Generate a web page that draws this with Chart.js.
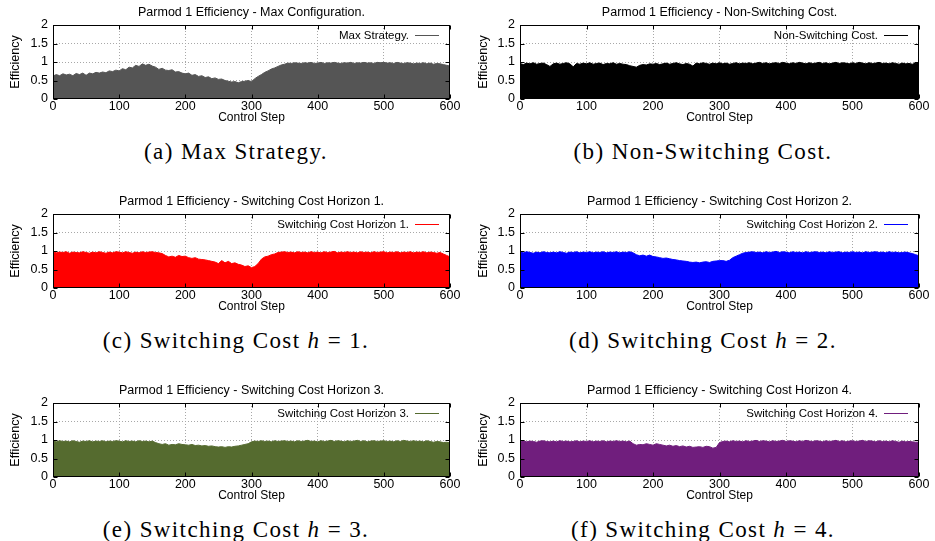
<!DOCTYPE html>
<html>
<head>
<meta charset="utf-8">
<script src="https://cdn.jsdelivr.net/npm/chart.js@4.4.1/dist/chart.umd.min.js"></script>
<style>
  html, body { margin: 0; padding: 0; background: #fff; }
  #page { position: relative; width: 935px; height: 541px; overflow: hidden; }
  .panel { position: absolute; }
  .caption {
    position: absolute; width: 467px; text-align: center; white-space: nowrap;
    font-family: "Liberation Serif", "Times New Roman", serif;
    font-size: 23px; line-height: 24px; letter-spacing: 1.4px; color: #000;
  }
</style>
</head>
<body>
<div id="page"></div>
<script>
// control steps 0..600, one sample every 5 steps
const controlSteps = Array.from({ length: 121 }, (_, i) => i * 5);
const xTicks = [0, 100, 200, 300, 400, 500, 600];
const yTicks = [0, 0.5, 1, 1.5, 2];

const maxStrategy = [
  0.62,0.66,0.63,0.68,0.65,0.67,0.63,0.69,0.66,0.70,
  0.64,0.70,0.68,0.72,0.70,0.73,0.71,0.76,0.74,0.78,
  0.76,0.82,0.79,0.86,0.84,0.91,0.88,0.95,0.91,0.94,
  0.89,0.86,0.80,0.83,0.78,0.77,0.79,0.73,0.74,0.70,
  0.68,0.70,0.64,0.66,0.61,0.63,0.58,0.60,0.55,0.57,
  0.53,0.54,0.50,0.48,0.46,0.47,0.44,0.47,0.48,0.50,
  0.47,0.55,0.61,0.66,0.72,0.76,0.81,0.84,0.88,0.92,
  0.94,0.97,0.96,0.98,0.97,0.96,0.98,0.97,0.99,0.96,
  0.97,0.99,0.96,0.98,0.97,0.99,0.97,0.96,0.98,0.97,
  0.99,0.96,0.98,0.97,0.99,0.97,0.98,0.96,0.99,0.98,
  0.99,0.97,0.98,0.96,0.99,0.97,0.96,0.98,0.97,0.95,
  0.97,0.96,0.98,0.95,0.97,0.94,0.96,0.95,0.93,0.91,
  0.89
];
const nonSwitching = [
  0.96,0.93,0.97,0.95,0.98,0.94,0.96,0.97,0.93,0.88,
  0.95,0.97,0.94,0.96,0.98,0.95,0.87,0.96,0.94,0.97,
  0.95,0.98,0.94,0.96,0.97,0.93,0.96,0.95,0.98,0.94,
  0.96,0.94,0.93,0.90,0.88,0.86,0.91,0.93,0.92,0.95,
  0.94,0.96,0.93,0.95,0.97,0.94,0.96,0.98,0.95,0.93,
  0.96,0.94,0.89,0.97,0.95,0.98,0.96,0.94,0.97,0.95,
  0.98,0.95,0.97,0.94,0.96,0.98,0.95,0.97,0.96,0.98,
  0.95,0.97,0.99,0.96,0.98,0.95,0.97,0.98,0.96,0.99,
  0.97,0.95,0.98,0.96,0.99,0.97,0.95,0.98,0.96,0.97,
  0.99,0.96,0.98,0.95,0.97,0.99,0.96,0.98,0.97,0.95,
  0.98,0.96,0.99,0.97,0.95,0.98,0.96,0.97,0.99,0.96,
  0.97,0.95,0.98,0.96,0.94,0.97,0.95,0.96,0.94,0.97,
  0.95
];
const horizon1 = [
  0.98,0.95,0.97,0.96,0.98,0.94,0.97,0.96,0.95,0.98,
  0.96,0.94,0.97,0.95,0.98,0.96,0.94,0.97,0.95,0.98,
  0.97,0.95,0.98,0.96,0.94,0.97,0.95,0.98,0.96,0.97,
  0.98,0.96,0.95,0.93,0.88,0.84,0.86,0.83,0.88,0.85,
  0.86,0.82,0.80,0.82,0.78,0.77,0.76,0.74,0.72,0.70,
  0.66,0.74,0.68,0.72,0.66,0.68,0.64,0.62,0.58,0.60,
  0.55,0.58,0.66,0.78,0.84,0.86,0.90,0.92,0.96,0.97,
  0.98,0.96,0.97,0.95,0.98,0.96,0.97,0.95,0.98,0.96,
  0.97,0.95,0.98,0.96,0.97,0.99,0.95,0.97,0.96,0.98,
  0.96,0.97,0.95,0.98,0.96,0.97,0.95,0.98,0.96,0.97,
  0.98,0.95,0.97,0.96,0.98,0.95,0.97,0.96,0.98,0.95,
  0.97,0.96,0.98,0.95,0.97,0.96,0.94,0.96,0.92,0.88,
  0.84
];
const horizon2 = [
  0.97,0.95,0.98,0.96,0.94,0.97,0.95,0.98,0.96,0.95,
  0.97,0.95,0.98,0.96,0.94,0.97,0.96,0.98,0.95,0.97,
  0.96,0.98,0.95,0.97,0.96,0.98,0.95,0.97,0.96,0.98,
  0.95,0.97,0.96,0.98,0.95,0.90,0.87,0.89,0.86,0.89,
  0.85,0.84,0.82,0.80,0.81,0.79,0.77,0.76,0.74,0.73,
  0.72,0.70,0.69,0.70,0.68,0.70,0.71,0.69,0.72,0.73,
  0.74,0.74,0.72,0.75,0.82,0.86,0.90,0.94,0.96,0.97,
  0.98,0.96,0.97,0.95,0.98,0.96,0.97,0.99,0.96,0.98,
  0.97,0.95,0.98,0.96,0.97,0.95,0.98,0.96,0.97,0.98,
  0.96,0.97,0.95,0.98,0.96,0.97,0.98,0.95,0.97,0.96,
  0.98,0.96,0.97,0.95,0.98,0.96,0.97,0.98,0.96,0.97,
  0.95,0.98,0.96,0.97,0.95,0.96,0.97,0.95,0.93,0.90,
  0.87
];
const horizon3 = [
  0.97,0.95,0.98,0.96,0.97,0.95,0.98,0.96,0.94,0.97,
  0.96,0.98,0.95,0.97,0.96,0.98,0.95,0.97,0.96,0.98,
  0.97,0.95,0.98,0.96,0.97,0.95,0.98,0.96,0.97,0.95,
  0.97,0.93,0.90,0.88,0.90,0.86,0.88,0.87,0.90,0.88,
  0.87,0.86,0.88,0.85,0.86,0.84,0.85,0.83,0.84,0.82,
  0.81,0.82,0.80,0.82,0.81,0.83,0.84,0.86,0.88,0.90,
  0.95,0.97,0.96,0.98,0.96,0.97,0.95,0.98,0.96,0.97,
  0.98,0.96,0.97,0.95,0.98,0.96,0.97,0.99,0.96,0.97,
  0.95,0.98,0.96,0.97,0.99,0.96,0.98,0.97,0.95,0.98,
  0.96,0.97,0.99,0.96,0.98,0.95,0.97,0.98,0.96,0.97,
  0.98,0.96,0.97,0.95,0.98,0.96,0.99,0.97,0.96,0.98,
  0.96,0.97,0.95,0.98,0.96,0.94,0.96,0.95,0.93,0.94,
  0.92
];
const horizon4 = [
  0.96,0.98,0.95,0.97,0.96,0.94,0.97,0.98,0.96,0.95,
  0.97,0.95,0.98,0.96,0.97,0.95,0.96,0.98,0.95,0.97,
  0.96,0.98,0.95,0.97,0.96,0.98,0.95,0.97,0.96,0.98,
  0.96,0.97,0.95,0.97,0.90,0.86,0.88,0.87,0.90,0.88,
  0.86,0.90,0.88,0.86,0.84,0.86,0.83,0.85,0.82,0.84,
  0.81,0.83,0.80,0.81,0.82,0.80,0.83,0.82,0.78,0.80,
  0.93,0.96,0.97,0.95,0.98,0.96,0.97,0.95,0.98,0.96,
  0.97,0.99,0.96,0.98,0.97,0.95,0.98,0.96,0.97,0.99,
  0.96,0.98,0.97,0.95,0.98,0.96,0.99,0.97,0.96,0.98,
  0.97,0.95,0.98,0.96,0.97,0.99,0.96,0.98,0.95,0.97,
  0.98,0.96,0.97,0.99,0.96,0.98,0.97,0.95,0.98,0.96,
  0.97,0.95,0.98,0.96,0.94,0.97,0.95,0.96,0.95,0.94,
  0.94
];

const panels = [
  { title: "Parmod 1 Efficiency - Max Configuration.", label: "Max Strategy.", values: maxStrategy, color: "#555555", caption: "(a) Max Strategy." },
  { title: "Parmod 1 Efficiency - Non-Switching Cost.", label: "Non-Switching Cost.", values: nonSwitching, color: "#000000", caption: "(b) Non-Switching Cost." },
  { title: "Parmod 1 Efficiency - Switching Cost Horizon 1.", label: "Switching Cost Horizon 1.", values: horizon1, color: "#ff0000", caption: "(c) Switching Cost <i>h</i> = 1." },
  { title: "Parmod 1 Efficiency - Switching Cost Horizon 2.", label: "Switching Cost Horizon 2.", values: horizon2, color: "#0000ff", caption: "(d) Switching Cost <i>h</i> = 2." },
  { title: "Parmod 1 Efficiency - Switching Cost Horizon 3.", label: "Switching Cost Horizon 3.", values: horizon3, color: "#556b2f", caption: "(e) Switching Cost <i>h</i> = 3." },
  { title: "Parmod 1 Efficiency - Switching Cost Horizon 4.", label: "Switching Cost Horizon 4.", values: horizon4, color: "#701e7d", caption: "(f) Switching Cost <i>h</i> = 4." }
];

// layout (px)
const COL_LEFT = [8, 476];
const COL_WIDTH = [466, 458];
const PLOT_LEFT = [53, 520];
const PLOT_RIGHT = [450, 919];
const CAPTION_CENTER = [236, 703];
const ROW_TOP = [0, 189, 378];
const CANVAS_H = 125;

Chart.defaults.font.family = '"Liberation Sans", Arial, sans-serif';
Chart.defaults.color = "#000";

// gnuplot-style frame with inward ticks on all four sides
const framePlugin = {
  id: "frame",
  afterDraw(chart) {
    const { ctx, chartArea: a, scales } = chart;
    const l = Math.round(a.left) + 0.5, r = Math.round(a.right) - 0.5;
    const t = Math.round(a.top) + 0.5, b = Math.round(a.bottom) - 0.5;
    ctx.save();
    ctx.strokeStyle = "#000";
    ctx.lineWidth = 1;
    ctx.beginPath();
    scales.x.ticks.forEach((tk) => {
      const px = Math.round(scales.x.getPixelForValue(tk.value)) + 0.5;
      ctx.moveTo(px, b); ctx.lineTo(px, b - 4);
      ctx.moveTo(px, t); ctx.lineTo(px, t + 4);
    });
    scales.y.ticks.forEach((tk) => {
      const py = Math.round(scales.y.getPixelForValue(tk.value)) + 0.5;
      ctx.moveTo(l, py); ctx.lineTo(l + 4, py);
      ctx.moveTo(r, py); ctx.lineTo(r - 4, py);
    });
    ctx.stroke();
    ctx.strokeRect(l, t, r - l, b - t);
    ctx.restore();
  }
};

// key drawn inside the plot, top right
const keyPlugin = {
  id: "insideKey",
  afterDatasetsDraw(chart) {
    const { ctx, chartArea: a } = chart;
    const ds = chart.data.datasets[0];
    const y = Math.round(a.top + 10) + 0.5;
    ctx.save();
    ctx.font = '11.5px "Liberation Sans", Arial, sans-serif';
    ctx.fillStyle = "#000";
    ctx.textAlign = "right";
    ctx.textBaseline = "middle";
    ctx.fillText(ds.label, a.right - 41, y);
    ctx.strokeStyle = ds.borderColor;
    ctx.lineWidth = 1;
    ctx.beginPath();
    ctx.moveTo(a.right - 35, y);
    ctx.lineTo(a.right - 11, y);
    ctx.stroke();
    ctx.restore();
  }
};

const page = document.getElementById("page");

panels.forEach((p, i) => {
  const col = i % 2;
  const row = Math.floor(i / 2);

  const wrap = document.createElement("div");
  wrap.className = "panel";
  wrap.style.left = COL_LEFT[col] + "px";
  wrap.style.top = ROW_TOP[row] + "px";
  wrap.style.width = COL_WIDTH[col] + "px";
  wrap.style.height = CANVAS_H + "px";
  const canvas = document.createElement("canvas");
  canvas.width = COL_WIDTH[col];
  canvas.height = CANVAS_H;
  wrap.appendChild(canvas);
  page.appendChild(wrap);

  const cap = document.createElement("div");
  cap.className = "caption";
  cap.innerHTML = p.caption;
  cap.style.left = (CAPTION_CENTER[col] - 233.5) + "px";
  cap.style.top = (ROW_TOP[row] + 140) + "px";
  page.appendChild(cap);

  const yAxisWidth = PLOT_LEFT[col] - COL_LEFT[col];
  const rightPad = COL_LEFT[col] + COL_WIDTH[col] - PLOT_RIGHT[col];

  new Chart(canvas, {
    type: "line",
    data: {
      datasets: [{
        label: p.label,
        data: controlSteps.map((s, k) => ({ x: s, y: p.values[k] })),
        borderColor: p.color,
        backgroundColor: p.color,
        borderWidth: 1,
        fill: "origin",
        pointRadius: 0,
        tension: 0
      }]
    },
    options: {
      responsive: false,
      animation: false,
      events: [],
      layout: { padding: { left: 0, right: rightPad, top: 0, bottom: 0 } },
      plugins: {
        legend: { display: false },
        tooltip: { enabled: false },
        title: {
          display: true,
          text: p.title,
          fullSize: false,
          font: { size: 12.5, weight: "normal" },
          lineHeight: 1.2,
          padding: { top: 5, bottom: 5 }
        }
      },
      scales: {
        x: {
          type: "linear",
          min: 0,
          max: 600,
          afterBuildTicks: (s) => { s.ticks = xTicks.map((v) => ({ value: v })); },
          afterFit: (s) => { s.height = CANVAS_H - 99; },
          ticks: { font: { size: 12.5 }, padding: 0, maxRotation: 0, autoSkip: false, callback: (v) => String(v) },
          grid: {
            drawTicks: false,
            color: (c) => (c.tick && (c.tick.value === 0 || c.tick.value === 600) ? "rgba(0,0,0,0)" : "#a8a8a8")
          },
          border: { display: false, dash: [1, 2] },
          title: { display: true, text: "Control Step", font: { size: 12 }, padding: 0 }
        },
        y: {
          min: 0,
          max: 2,
          afterBuildTicks: (s) => { s.ticks = yTicks.map((v) => ({ value: v })); },
          afterFit: (s) => { s.width = yAxisWidth; },
          ticks: { font: { size: 12.5 }, padding: 5, callback: (v) => String(v) },
          grid: {
            drawTicks: false,
            color: (c) => (c.tick && (c.tick.value === 0 || c.tick.value === 2) ? "rgba(0,0,0,0)" : "#a8a8a8")
          },
          border: { display: false, dash: [1, 2] },
          title: { display: true, text: "Efficiency", font: { size: 12.5 }, padding: 0 }
        }
      }
    },
    plugins: [keyPlugin, framePlugin]
  });
});
</script>
</body>
</html>
